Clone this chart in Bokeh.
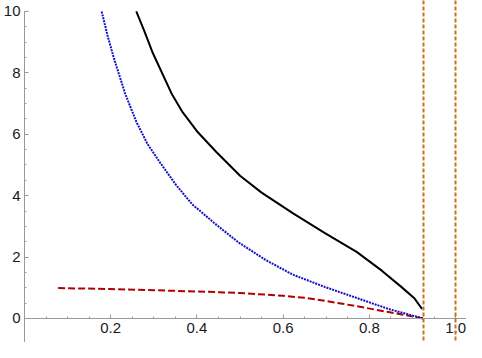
from bokeh.plotting import figure
from bokeh.models import Range1d, FixedTicker, PrintfTickFormatter
from bokeh.embed import file_html
from bokeh.resources import INLINE

# Solid black curve
black_x = [0.2593, 0.2778, 0.2963, 0.3407, 0.3667, 0.4, 0.4444, 0.5,
           0.55, 0.6222, 0.696, 0.7704, 0.8296, 0.874, 0.9037, 0.9222]
black_y = [10.0, 9.37, 8.69, 7.34, 6.72, 6.10, 5.43, 4.65,
           4.1, 3.43, 2.79, 2.17, 1.55, 1.03, 0.67, 0.31]

# Dotted blue curve
blue_x = [0.179, 0.193, 0.2073, 0.2333, 0.2593, 0.2851, 0.3149, 0.352,
          0.389, 0.441, 0.4962, 0.56, 0.6222, 0.696, 0.7704, 0.8444, 0.925]
blue_y = [10.0, 9.2, 8.48, 7.33, 6.41, 5.69, 5.07, 4.34,
          3.72, 3.10, 2.48, 1.9, 1.43, 1.03, 0.67, 0.31, 0.0]

# Dashed red curve
red_x = [0.078, 0.2, 0.3, 0.4, 0.5, 0.6, 0.652, 0.696, 0.7704, 0.8444, 0.925]
red_y = [0.99, 0.96, 0.92, 0.88, 0.83, 0.74, 0.67, 0.58, 0.40, 0.21, 0.0]

# Vertical dashed lines
vline_x = [0.926, 1.0]

x_ticks = [0.2, 0.4, 0.6, 0.8, 1.0]
y_ticks = [0, 2, 4, 6, 8, 10]

Y0, Y1 = -0.782, 10.358

p = figure(width=466, height=342,
           x_range=Range1d(0, 1.0253), y_range=Range1d(Y0, Y1),
           output_backend="svg", toolbar_location=None,
           min_border_left=21, min_border_right=0,
           min_border_top=0, min_border_bottom=0)
p.grid.visible = False
p.outline_line_color = None
p.background_fill_color = "white"
p.border_fill_color = "white"

p.line(red_x, red_y, line_color="#b00000", line_width=2, line_dash="7 3")
p.line(blue_x, blue_y, line_color="#1010c8", line_width=2, line_dash="2 1")
p.line(black_x, black_y, line_color="black", line_width=2)
p.vspan(x=vline_x, line_color="#c8741a", line_width=2, line_dash="4 2",
        level="overlay")

p.xaxis.fixed_location = 0
p.xaxis.ticker = FixedTicker(ticks=x_ticks,
                             minor_ticks=[i * 0.05 for i in range(1, 21)])
p.xaxis.formatter = PrintfTickFormatter(format="%.1f")
p.yaxis.ticker = FixedTicker(ticks=y_ticks,
                             minor_ticks=[i * 0.5 for i in range(0, 21)])
p.yaxis.bounds = (Y0, 10)

for ax in (p.xaxis[0], p.yaxis[0]):
    ax.axis_line_color = "#999999"
    ax.major_tick_line_color = "#999999"
    ax.minor_tick_line_color = "#999999"
    ax.major_tick_in = 4
    ax.major_tick_out = 0
    ax.minor_tick_in = 2
    ax.minor_tick_out = 0
    ax.major_label_text_font = "Liberation Sans"
    ax.major_label_text_font_size = "15px"
    ax.major_label_text_color = "#1a1a1a"
p.yaxis.major_label_standoff = 4
p.xaxis.major_label_standoff = 5

open("out.html", "w").write(file_html(p, INLINE))
